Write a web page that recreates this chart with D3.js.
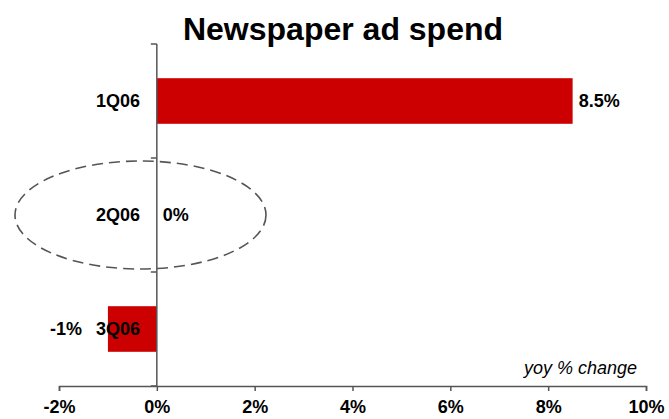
<!DOCTYPE html>
<html>
<head>
<meta charset="utf-8">
<script src="https://cdn.jsdelivr.net/npm/d3@7"></script>
<style>
  body { margin: 0; background: #fff; }
  svg { display: block; font-family: "Liberation Sans", Arial, sans-serif; }
</style>
</head>
<body>
<svg id="chart" width="669" height="419"></svg>
<script>
// Quarterly year-on-year change in newspaper ad spend
const quarters = ["1Q06", "2Q06", "3Q06"];
const yoyChange = [8.5, 0, -1];
const valueLabels = ["8.5%", "0%", "-1%"];
const xTicks = [-2, 0, 2, 4, 6, 8, 10];

const svg = d3.select("#chart");
const axisColor = "#555";
const labelSize = "18px";

const x = d3.scaleLinear().domain([-2, 10]).range([59, 646]);
const y = d3.scaleBand().domain(quarters).range([44, 386]).paddingInner(0.6).paddingOuter(0.3);

// title
svg.append("text")
  .attr("x", 343).attr("y", 40)
  .attr("text-anchor", "middle")
  .style("font-size", "32px").style("font-weight", "bold")
  .text("Newspaper ad spend");

// bars
svg.selectAll("rect.bar")
  .data(quarters)
  .join("rect")
  .attr("class", "bar")
  .attr("x", (d, i) => x(Math.min(0, yoyChange[i])))
  .attr("width", (d, i) => Math.abs(x(yoyChange[i]) - x(0)))
  .attr("y", d => y(d))
  .attr("height", y.bandwidth())
  .attr("fill", "#cc0000");

// x axis
const xAxis = d3.axisBottom(x)
  .tickValues(xTicks)
  .tickSize(5)
  .tickPadding(9)
  .tickFormat(d => d + "%");
const gx = svg.append("g").attr("transform", "translate(0,386)").call(xAxis);
gx.select(".domain").attr("stroke", axisColor).attr("stroke-width", 1.5);
gx.selectAll(".tick line").attr("stroke", axisColor).attr("stroke-width", 1.5);
gx.selectAll(".tick text")
  .attr("fill", "#000")
  .style("font-size", labelSize).style("font-weight", "bold")
  .style("font-family", "'Liberation Sans', Arial, sans-serif");

// y axis line at zero with ticks at category boundaries
const boundaries = [44].concat(quarters.map(q => y(q) + y.bandwidth() + (y.step() * y.paddingInner()) / 2));
const gy = svg.append("g");
gy.append("line")
  .attr("x1", x(0)).attr("x2", x(0))
  .attr("y1", 44).attr("y2", 386)
  .attr("stroke", axisColor).attr("stroke-width", 1.5);
gy.selectAll("line.ytick")
  .data(boundaries)
  .join("line")
  .attr("class", "ytick")
  .attr("x1", x(0) - 6).attr("x2", x(0))
  .attr("y1", d => d).attr("y2", d => d)
  .attr("stroke", axisColor).attr("stroke-width", 1.5);

// category labels
svg.selectAll("text.cat")
  .data(quarters)
  .join("text")
  .attr("class", "cat")
  .attr("x", 140)
  .attr("y", d => y(d) + y.bandwidth() / 2)
  .attr("dy", "0.35em")
  .attr("text-anchor", "end")
  .style("font-size", labelSize).style("font-weight", "bold")
  .text(d => d);

// value labels
svg.selectAll("text.val")
  .data(quarters)
  .join("text")
  .attr("class", "val")
  .attr("x", (d, i) => yoyChange[i] < 0 ? x(yoyChange[i]) - 26 : x(yoyChange[i]) + 6)
  .attr("y", d => y(d) + y.bandwidth() / 2)
  .attr("dy", "0.35em")
  .attr("text-anchor", (d, i) => yoyChange[i] < 0 ? "end" : "start")
  .style("font-size", labelSize).style("font-weight", "bold")
  .text((d, i) => valueLabels[i]);

// dashed highlight around the flat quarter
svg.append("ellipse")
  .attr("cx", 140.5)
  .attr("cy", y("2Q06") + y.bandwidth() / 2)
  .attr("rx", 125.5).attr("ry", 54)
  .attr("fill", "none")
  .attr("stroke", axisColor)
  .attr("stroke-width", 1.6)
  .attr("stroke-dasharray", "11,6");

// unit note
svg.append("text")
  .attr("x", 637).attr("y", 374)
  .attr("text-anchor", "end")
  .style("font-size", labelSize).style("font-style", "italic")
  .text("yoy % change");
</script>
</body>
</html>
